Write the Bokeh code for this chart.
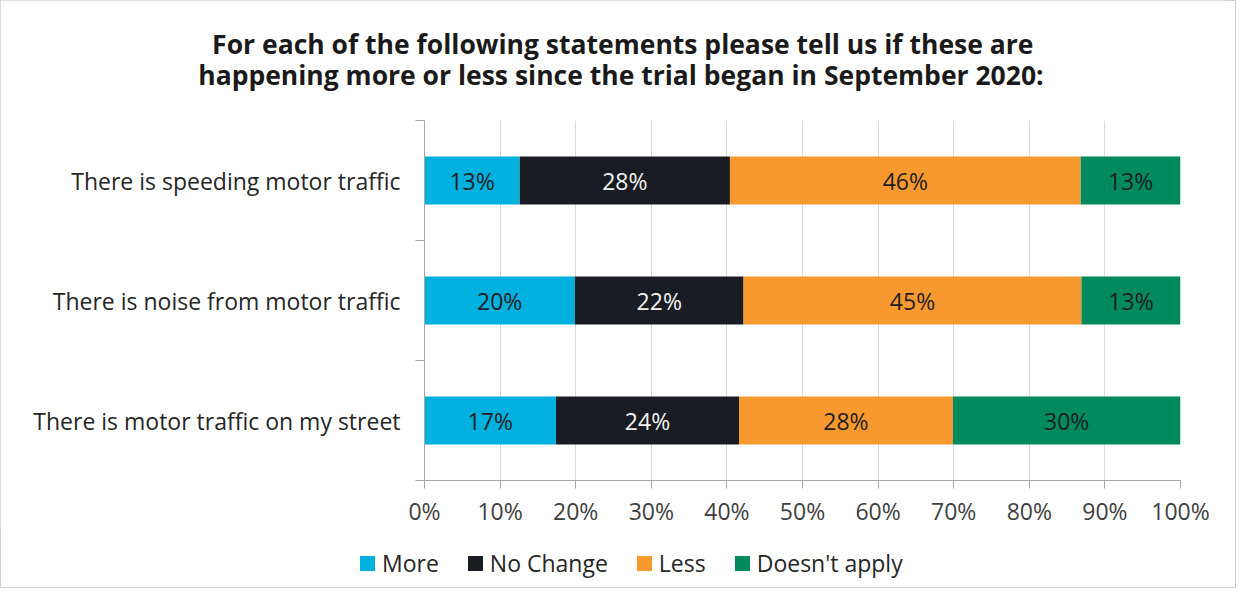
from bokeh.plotting import figure
from bokeh.models import ColumnDataSource, FixedTicker, Title, Div
from bokeh.layouts import column
from bokeh.core.properties import value
from bokeh.embed import file_html
from bokeh.resources import INLINE

# ---- data ----
categories = ["There is speeding motor traffic",
              "There is noise from motor traffic",
              "There is motor traffic on my street"]
series = ["More", "No Change", "Less", "Doesn't apply"]
more = [12.6, 19.9, 17.4]
no_change = [27.8, 22.3, 24.2]
less = [46.4, 44.7, 28.3]
doesnt_apply = [13.2, 13.1, 30.1]
x_ticks = [0, 10, 20, 30, 40, 50, 60, 70, 80, 90, 100]
x_tick_labels = ["0%", "10%", "20%", "30%", "40%", "50%", "60%", "70%", "80%", "90%", "100%"]
title_lines = ["For each of the following statements please tell us if these are",
               "happening  more or less since the trial began in September 2020:"]
colors = ["#00b0de", "#191c22", "#f7992f", "#008a5e"]
label_colors = ["#1f1f1f", "#f2f2f2", "#1f1f1f", "#1f1f1f"]

FONT = "Open Sans"
FS = "23px"

n = len(categories)
ys = [n - 0.5 - i for i in range(n)]  # top to bottom
cols = {"More": more, "No Change": no_change, "Less": less, "Doesn't apply": doesnt_apply}
data = {"y": ys}
for s in series:
    data[s] = cols[s]
source = ColumnDataSource(data)

W = 1226
H1, H2 = 530, 48
p = figure(width=W, height=H1, x_range=(0, 100), y_range=(0, n),
           output_backend="svg", toolbar_location=None,
           min_border_left=424, min_border_right=W - 1180, min_border_top=120,
           min_border_bottom=H1 - 480)
p.outline_line_color = None

renderers = p.hbar_stack(series, y="y", height=0.4, color=colors, line_color=None, source=source)

# data labels
for k, s in enumerate(series):
    left = [sum(cols[series[j]][i] for j in range(k)) for i in range(n)]
    mids = [left[i] + cols[s][i] / 2 for i in range(n)]
    txt = [f"{round(v):d}%" for v in cols[s]]
    ls = ColumnDataSource({"x": mids, "y": ys, "t": txt})
    p.text(x="x", y="y", text="t", source=ls, text_align="center", text_baseline="middle",
           text_font=value(FONT), text_font_size=FS, text_color=label_colors[k])

# axes
xa = p.xaxis[0]
xa.ticker = FixedTicker(ticks=x_ticks)
xa.major_label_overrides = {t: l for t, l in zip(x_ticks, x_tick_labels)}
xa.axis_line_color = "#a6a6a6"
xa.major_tick_line_color = "#a6a6a6"
xa.major_tick_out = 8
xa.major_tick_in = 0
xa.minor_tick_line_color = None
xa.major_label_text_font = FONT
xa.major_label_text_font_size = FS
xa.major_label_text_color = "#404040"
xa.major_label_standoff = 6

ya = p.yaxis[0]
ya.ticker = FixedTicker(ticks=ys, minor_ticks=list(range(n + 1)))
ya.major_label_overrides = {y: c for y, c in zip(ys, categories)}
ya.axis_line_color = "#a6a6a6"
ya.major_tick_line_color = None
ya.major_tick_out = 0
ya.major_tick_in = 0
ya.minor_tick_line_color = "#a6a6a6"
ya.minor_tick_out = 9
ya.minor_tick_in = 0
ya.major_label_text_font = FONT
ya.major_label_text_font_size = FS
ya.major_label_text_color = "#262626"
ya.major_label_standoff = 15

p.xgrid.ticker = FixedTicker(ticks=x_ticks)
p.xgrid.grid_line_color = "#d9d9d9"
p.ygrid.grid_line_color = None

# title (two lines)
t2 = Title(text=title_lines[1], align="right", offset=130,
           text_font=FONT, text_font_size="26.5px", text_font_style="bold", text_color="#1a1a1a",
           standoff=55)
t1 = Title(text=title_lines[0], align="right", offset=147,
           text_font=FONT, text_font_size="26.5px", text_font_style="bold", text_color="#1a1a1a",
           standoff=-69)
p.add_layout(t2, "above")
p.add_layout(t1, "above")

# legend strip (HTML, so it can sit left of the plot frame)
swatches = "".join(
    f'<span style="display:inline-flex;align-items:center;margin-right:29px;">'
    f'<span style="display:inline-block;width:15px;height:15px;background:{c};margin-right:7px;"></span>'
    f'{s}</span>'
    for s, c in zip(series, colors))
legend_div = Div(
    text=(f'<div style="margin-left:355px;padding-top:13px;white-space:nowrap;'
          f'font-family:\'Open Sans\';font-size:23px;line-height:31px;color:#262626;'
          f'display:flex;align-items:center;">{swatches}</div>'),
    width=W, height=H2)

layout = column(p, legend_div, spacing=0)
layout.styles = {"outline": "1px solid #d0d0d0", "outline-offset": "-1px"}

open("out.html", "w").write(file_html(layout, INLINE))
